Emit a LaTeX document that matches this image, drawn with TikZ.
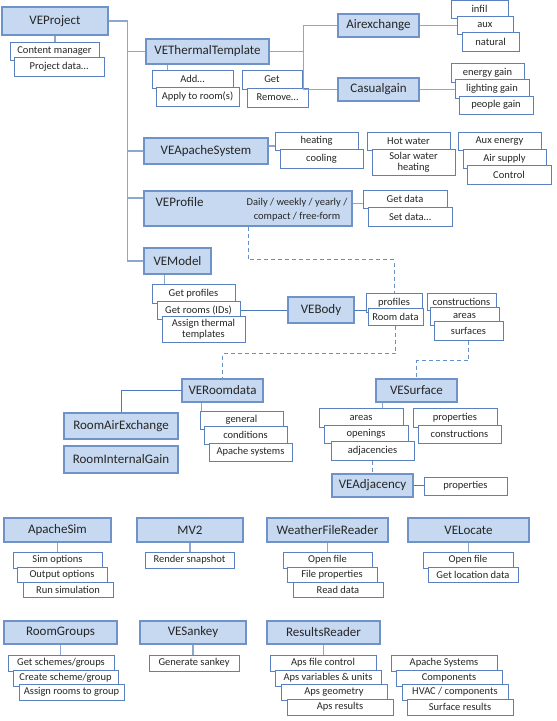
\documentclass[tikz,border=0pt]{standalone}
\usepackage{fontspec}
\setmainfont{Carlito}
\definecolor{hdfill}{HTML}{C6D9F1}
\definecolor{hdline}{HTML}{6F93C8}
\definecolor{itline}{HTML}{5A80BF}
\definecolor{brline}{HTML}{8CA8CF}
\definecolor{lnline}{HTML}{4C78BC}
\definecolor{dlline}{HTML}{6690C8}

\begin{document}
\begin{tikzpicture}[x=1pt,y=-1pt,
    sz/.style 2 args={minimum width=#1pt,minimum height=#2pt},
    hd/.style={draw=hdline,fill=hdfill,line width=1.2pt,inner sep=0pt,text=black!85,font=\fontsize{13}{15}\selectfont},
    it/.style={draw=itline,fill=white,line width=1pt,inner sep=0pt,align=center,text=black!85,font=\fontsize{10.5}{10.7}\selectfont},
    br/.style={brline,line width=1.3pt},
    ln/.style={lnline,line width=1pt},
    dl/.style={dlline,line width=1pt,dash pattern=on 4pt off 3pt}]
\useasboundingbox (0,0) rectangle (557,721);

\node[hd,sz={106}{28}] (proj) at (55,21) {VEProject};
\node[it,sz={89}{18}] (cman) at (54.5,51) {Content manager};
\node[it,sz={90}{19}] (pdata) at (59,66.5) {Project data\dots};

\node[hd,sz={123}{25}] (ttmpl) at (207.5,51.5) {VEThermalTemplate};
\node[it,sz={81}{18}] (add) at (192.5,79) {Add\dots};
\node[it,sz={83}{19}] (apply) at (197.5,96.5) {Apply to room(s)};
\node[it,sz={60}{19}] (get) at (272,79.5) {Get};
\node[it,sz={61}{19}] (remove) at (277.5,97.5) {Remove\dots};

\node[hd,sz={81}{23}] (airx) at (378.5,25.5) {Airexchange};
\node[it,sz={57}{18}] (infil) at (479.5,9) {infil};
\node[it,sz={56}{18}] (aux) at (485,25) {aux};
\node[it,sz={57}{19}] (natural) at (490.5,41.5) {natural};
\node[hd,sz={81}{23}] (casual) at (378.5,89.5) {Casualgain};
\node[it,sz={73}{19}] (egain) at (487.5,72.5) {energy gain};
\node[it,sz={74}{19}] (lgain) at (492,88.5) {lighting gain};
\node[it,sz={74}{18}] (pgain) at (496,105) {people gain};

\node[hd,sz={124}{26}] (apsys) at (206,151) {VEApacheSystem};
\node[it,sz={83}{18}] (heat) at (316.5,141) {heating};
\node[it,sz={83}{19}] (cool) at (321.5,158.5) {cooling};
\node[it,sz={83}{18}] (hotw) at (408.5,141) {Hot water};
\node[it,sz={83}{26}] (solar) at (413.5,162) {Solar water\\heating};
\node[it,sz={83}{18}] (auxe) at (499.5,141) {Aux energy};
\node[it,sz={83}{19}] (airs) at (504.5,158.5) {Air supply};
\node[it,sz={84}{19}] (ctrl) at (509,174.5) {Control};

\node[hd,sz={208}{35}] (prof) at (248,208.5) {};
\node[anchor=west,inner sep=0pt,text=black!85,font=\fontsize{13}{15}\selectfont] (proflbl) at ([xshift=12pt,yshift=6pt]prof.west) {VEProfile};
\node[align=center,inner sep=0pt,text=black!85,font=\fontsize{10.5}{14}\selectfont] (proftyp) at (297,210) {Daily / weekly / yearly /\\compact / free-form};
\node[it,sz={84}{18}] (getd) at (405,199) {Get data};
\node[it,sz={84}{19}] (setd) at (410,216.5) {Set data\dots};

\node[hd,sz={67}{26}] (model) at (177.5,261) {VEModel};
\node[it,sz={83}{19}] (gprof) at (193.5,293.5) {Get profiles};
\node[it,sz={83}{18}] (grooms) at (198.5,310) {Get rooms (IDs)};
\node[it,sz={83}{26}] (assign) at (203.5,329) {Assign thermal\\templates};

\node[hd,sz={66}{26}] (body) at (321,310) {VEBody};
\node[it,sz={56}{19}] (bprof) at (394,302.5) {profiles};
\node[it,sz={55}{17}] (brd) at (395.5,316.5) {Room data};
\node[it,sz={69}{17}] (bcons) at (461.5,301.5) {constructions};
\node[it,sz={69}{18}] (bareas) at (464.5,316) {areas};
\node[it,sz={69}{19}] (bsurf) at (468.5,330.5) {surfaces};

\node[hd,sz={81}{23}] (roomdata) at (222.5,390.5) {VERoomdata};
\node[hd,sz={114}{26}] (rax) at (121,426) {RoomAirExchange};
\node[hd,sz={114}{27}] (rig) at (121,459.5) {RoomInternalGain};
\node[it,sz={83}{18}] (rgen) at (241.5,420) {general};
\node[it,sz={83}{18}] (rcond) at (245.5,435) {conditions};
\node[it,sz={83}{18}] (rsys) at (250.5,452) {Apache systems};

\node[hd,sz={81}{23}] (surf) at (416.5,390.5) {VESurface};
\node[it,sz={84}{19}] (sareas) at (361,417.5) {areas};
\node[it,sz={84}{18}] (sopen) at (366,434) {openings};
\node[it,sz={83}{19}] (sadj) at (372.5,450.5) {adjacencies};
\node[it,sz={84}{19}] (sprops) at (455,417.5) {properties};
\node[it,sz={83}{18}] (scons) at (459.5,434) {constructions};
\node[hd,sz={81}{23}] (adj) at (372.5,485.5) {VEAdjacency};
\node[it,sz={83}{18}] (aprops) at (465.5,486) {properties};

\node[hd,sz={107}{24}] (apsim) at (57.5,530) {ApacheSim};
\node[it,sz={89}{16}] (simopt) at (57.5,560) {Sim options};
\node[it,sz={90}{15}] (outopt) at (62,574.5) {Output options};
\node[it,sz={90}{15}] (runsim) at (68,589.5) {Run simulation};
\node[hd,sz={106}{24}] (mv2) at (190,530) {MV2};
\node[it,sz={89}{16}] (render) at (189.5,560) {Render snapshot};
\node[hd,sz={121}{24}] (wfr) at (327.5,530) {WeatherFileReader};
\node[it,sz={89}{16}] (wopen) at (327.5,560) {Open file};
\node[it,sz={90}{15}] (wprops) at (332,574.5) {File properties};
\node[it,sz={90}{15}] (wread) at (338,589.5) {Read data};
\node[hd,sz={121}{24}] (veloc) at (468.5,530) {VELocate};
\node[it,sz={90}{16}] (lopen) at (468,560) {Open file};
\node[it,sz={90}{15}] (lget) at (473,574.5) {Get location data};

\node[hd,sz={113}{23}] (rgrp) at (60.5,632.5) {RoomGroups};
\node[it,sz={106}{16}] (gsch) at (61,663) {Get schemes/groups};
\node[it,sz={105}{16}] (csch) at (65.5,678) {Create scheme/group};
\node[it,sz={105}{16}] (asch) at (71.5,692) {Assign rooms to group};
\node[hd,sz={106}{23}] (sankey) at (193,632.5) {VESankey};
\node[it,sz={90}{16}] (gsank) at (194,663) {Generate sankey};
\node[hd,sz={113}{23}] (rres) at (323.5,632.5) {ResultsReader};
\node[it,sz={106}{16}] (afile) at (323,663) {Aps file control};
\node[it,sz={106}{16}] (avars) at (328,678) {Aps variables \& units};
\node[it,sz={106}{16}] (ageo) at (334,692) {Aps geometry};
\node[it,sz={106}{16}] (ares) at (340,707) {Aps results};
\node[it,sz={106}{16}] (rsys2) at (444,663) {Apache Systems};
\node[it,sz={106}{16}] (rcomp) at (449,678) {Components};
\node[it,sz={106}{16}] (rhvac) at (455,692) {HVAC / components};
\node[it,sz={106}{16}] (rsurf) at (460,707) {Surface results};

\draw[br] (proj.east) -- ++(19,0) coordinate (spine) |- (model.west);
\draw[br] (spine |- ttmpl.west) -- (ttmpl.west);
\draw[br] (spine |- apsys.west) -- (apsys.west);
\path ([yshift=10.5pt]prof.west) coordinate (profin);
\draw[br] (spine |- profin) -- (profin);
\draw[br] (proj.south) -- (proj.south |- cman.north);
\draw[br] ([xshift=16pt]add.north west) coordinate (tt) -- (tt |- ttmpl.south);
\draw[br] (ttmpl.east) -- ++(34,0) coordinate (fork);
\draw[br] (airx.west) -| (fork) |- (casual.west);
\draw[br] (airx.east) -- (airx.east -| aux.west);
\draw[br] (casual.east) -- (casual.east -| lgain.west);
\draw[br] ([yshift=5pt]apsys.east) coordinate (apout) -- (apout -| heat.west);
\draw[br] ([yshift=5pt]prof.east) coordinate (prout) -- (prout -| getd.west);
\draw[br] ([xshift=13pt]gprof.north west) coordinate (mo) -- (mo |- model.south);
\draw[ln] (grooms.east) -- (grooms.east -| body.west);
\draw[ln] (body.east) -- (body.east -| bprof.west);
\draw[dl] (prof.south) -- ++(0,33) -| (bprof.north);
\draw[dl] (brd.south) -- ++(0,28) -| (roomdata.north);
\draw[dl] (bsurf.south) -- ++(0,20) -| (surf.north);
\draw[ln] (roomdata.west) -| (rax.north);
\draw[br] ([xshift=20pt]roomdata.south west) coordinate (rd) -- (rd |- rgen.north);
\draw[br] ([xshift=7pt]surf.south west) coordinate (sf) -- (sf |- sareas.north);
\draw[dl] (sadj.south) -- (adj.north);
\draw[ln] (adj.east) -- (adj.east -| aprops.west);
\draw[br] (apsim.south) -- (apsim.south |- simopt.north);
\draw[br] (mv2.south) -- (mv2.south |- render.north);
\draw[br] (wfr.south) -- (wfr.south |- wopen.north);
\draw[br] (veloc.south) -- (veloc.south |- lopen.north);
\draw[br] (rgrp.south) -- (rgrp.south |- gsch.north);
\draw[br] (sankey.south) -- (sankey.south |- gsank.north);
\draw[br] (rres.south) -- (rres.south |- afile.north);
\end{tikzpicture}
\end{document}
